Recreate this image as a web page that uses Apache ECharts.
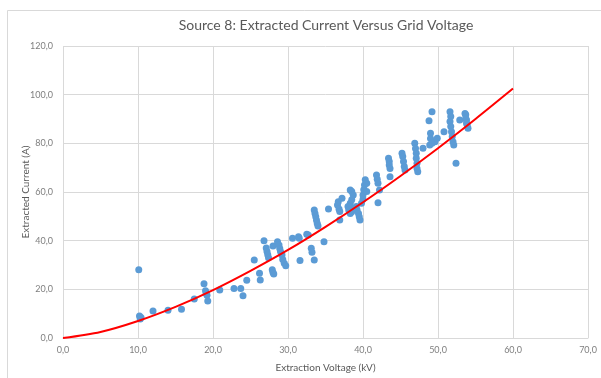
<!DOCTYPE html>
<html>
<head>
<meta charset="utf-8">
<script src="https://cdn.jsdelivr.net/npm/echarts@6/dist/echarts.min.js"></script>
<style>
  html, body { margin: 0; padding: 0; background: #fff; }
  #chart { width: 601px; height: 378px; }
</style>
</head>
<body>
<div id="chart"></div>
<script>
// measured points: extraction voltage (kV) / extracted current (A)
const voltage = [
  10.1, 10.2, 10.3, 10.4, 12.0, 14.0, 15.8, 17.5, 18.8, 19.0, 19.1, 19.2, 19.3, 20.9, 22.8, 23.7, 24.0, 24.5,
  25.5, 26.2, 26.3, 26.8, 27.1, 27.2, 27.3, 27.4, 27.9, 28.0, 28.1, 28.0, 28.6, 28.8, 28.9, 29.0, 29.2, 29.3,
  29.5, 29.7, 30.6, 31.4, 31.5, 31.6, 32.5, 32.7, 33.1, 33.2, 33.5, 33.5, 33.6, 33.7, 33.8, 33.9, 34.0, 34.8,
  35.4, 36.7, 36.6, 36.8, 36.9, 36.9, 37.2, 38.3, 38.5, 38.7, 38.3, 38.4, 38.5, 38.0, 38.1, 38.3, 38.5, 39.1,
  39.2, 39.4, 39.5, 39.6, 39.8, 40.0, 40.0, 40.1, 40.2, 40.3, 40.5, 40.5, 41.8, 41.9, 42.0, 42.2, 42.0, 43.4,
  43.5, 43.5, 43.6, 43.6, 45.2, 45.3, 45.4, 45.5, 45.6, 46.9, 47.0, 47.1, 47.1, 47.2, 47.2, 47.3, 48.0, 48.9,
  49.6, 48.8, 49.2, 49.0, 49.0, 49.2, 49.9, 50.8, 51.6, 51.7, 51.6, 51.7, 51.8, 51.9, 52.0, 52.1, 52.4, 52.9,
  53.7, 53.8, 53.9, 54.0, 53.6, 53.7, 53.8
]
const current = [
  28.0, 9.0, 7.8, 8.4, 11.1, 11.4, 11.8, 16.0, 22.3, 19.4, 18.4, 17.6, 15.2, 19.7, 20.3, 20.3, 17.4, 23.7,
  32.1, 26.6, 23.8, 40.0, 37.0, 35.5, 34.2, 33.0, 28.0, 26.9, 26.3, 37.8, 39.6, 38.2, 36.8, 35.5, 34.1, 32.3,
  30.7, 29.7, 41.0, 41.6, 41.0, 31.8, 42.6, 42.3, 36.9, 35.2, 32.1, 52.6, 51.2, 49.8, 48.4, 47.1, 46.0, 39.6,
  53.0, 56.0, 54.7, 53.0, 52.0, 48.5, 57.4, 60.8, 60.2, 58.8, 55.4, 53.3, 51.9, 54.0, 52.6, 51.2, 56.8, 54.0,
  52.6, 51.2, 49.8, 48.5, 55.4, 57.0, 58.8, 60.9, 62.9, 65.0, 63.6, 60.2, 67.0, 65.2, 63.6, 60.8, 55.6, 73.9,
  72.5, 71.1, 69.7, 66.3, 75.9, 74.6, 72.5, 70.5, 69.0, 80.0, 77.9, 75.9, 73.9, 71.8, 69.7, 68.3, 78.0, 79.3,
  80.7, 89.3, 93.0, 84.1, 82.0, 80.0, 82.1, 84.8, 93.0, 91.0, 89.0, 86.9, 84.8, 82.8, 80.7, 79.3, 71.8, 89.6,
  91.7, 89.6, 87.5, 86.2, 92.3, 90.3, 88.3
]

// red trend curve
const fitVoltage = [0, 5, 10, 15, 20, 25, 30, 35, 40, 45, 50, 55, 60]
const fitCurrent = [0, 2.5, 7.0, 12.8, 19.7, 27.6, 36.2, 45.7, 55.8, 66.6, 78.0, 90.0, 102.5]

const font = 'Lato, "Open Sans", sans-serif'
const tickFmt = function(v) { return v.toFixed(1).replace('.', ',') }

const chart = echarts.init(document.getElementById('chart'))
const option = {
  animation: false,
  backgroundColor: '#fff',
  textStyle: { fontFamily: font },
  title: {
    text: 'Source 8: Extracted Current Versus Grid Voltage',
    left: 321,
    top: 13,
    textAlign: 'center',
    textStyle: { fontFamily: font, fontSize: 14, fontWeight: 'normal', color: '#595959' }
  },
  graphic: [
    {
      type: 'rect',
      shape: { x: 7.5, y: 10.5, width: 640, height: 420 },
      style: { fill: 'none', stroke: '#D9D9D9', lineWidth: 1 },
      silent: true
    }
  ],
  grid: { left: 63, right: 13, top: 46, bottom: 40 },
  xAxis: {
    type: 'value',
    min: 0,
    max: 70,
    interval: 10,
    name: 'Extraction Voltage (kV)',
    nameLocation: 'middle',
    nameGap: 25,
    nameMoveOverlap: false,
    nameTextStyle: { fontFamily: font, fontSize: 10, color: '#595959' },
    axisLine: { show: true, lineStyle: { color: '#D9D9D9' } },
    axisTick: { show: false },
    axisLabel: { formatter: tickFmt, fontSize: 9, color: '#7F7F7F', margin: 8 },
    splitLine: { show: true, lineStyle: { color: '#D9D9D9' } }
  },
  yAxis: {
    type: 'value',
    min: 0,
    max: 120,
    interval: 20,
    name: 'Extracted Current (A)',
    nameLocation: 'middle',
    nameGap: 32,
    nameMoveOverlap: false,
    nameTextStyle: { fontFamily: font, fontSize: 10, color: '#595959' },
    axisLine: { show: false },
    axisTick: { show: false },
    axisLabel: { formatter: tickFmt, fontSize: 9, color: '#7F7F7F', margin: 10 },
    splitLine: { show: true, lineStyle: { color: '#D9D9D9' } }
  },
  series: [
    {
      type: 'scatter',
      data: voltage.map(function(v, i) { return [v, current[i]] }),
      symbolSize: 7,
      itemStyle: { color: '#5B9BD5', opacity: 1 },
      z: 2
    },
    {
      type: 'line',
      data: fitVoltage.map(function(v, i) { return [v, fitCurrent[i]] }),
      smooth: 0.3,
      showSymbol: false,
      lineStyle: { color: '#FF0000', width: 2 },
      z: 3
    }
  ]
}
chart.setOption(option)
</script>
</body>
</html>
